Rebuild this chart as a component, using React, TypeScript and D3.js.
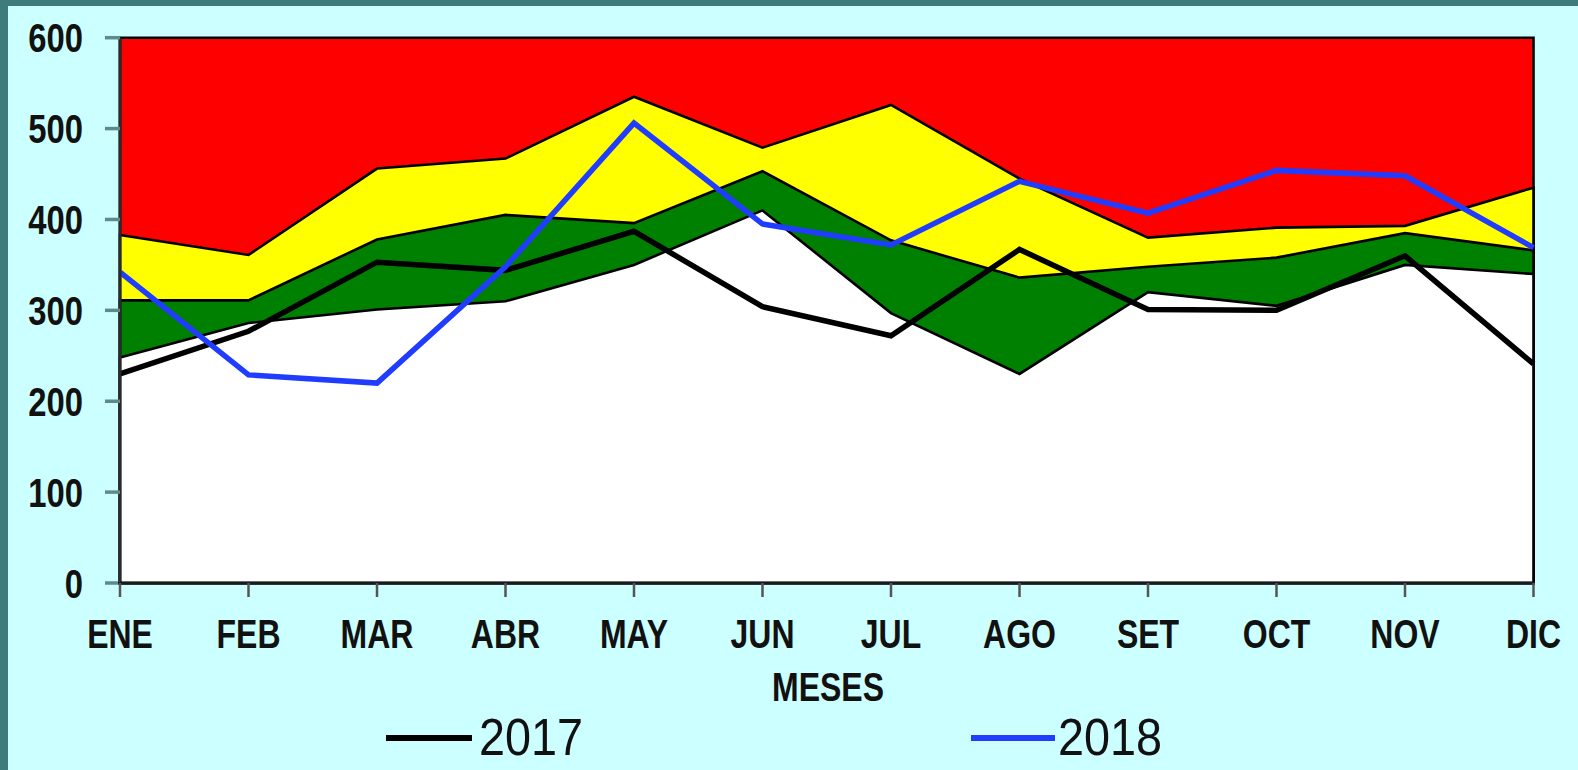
import React from "react";
import * as d3 from "d3";

const months = ["ENE", "FEB", "MAR", "ABR", "MAY", "JUN", "JUL", "AGO", "SET", "OCT", "NOV", "DIC"];
// zone limits (overlapping areas, drawn back to front)
const epidemicZone = [600, 600, 600, 600, 600, 600, 600, 600, 600, 600, 600, 600];
const alarmZone = [383, 361, 456, 467, 535, 479, 526, 445, 380, 391, 393, 435];
const securityZone = [311, 311, 378, 405, 396, 453, 377, 336, 348, 358, 385, 366];
const successZone = [248, 286, 301, 310, 350, 410, 297, 230, 320, 305, 350, 340];
// yearly series
const cases2017 = [230, 277, 353, 344, 387, 304, 272, 367, 301, 300, 360, 241];
const cases2018 = [342, 229, 220, 348, 506, 395, 372, 442, 407, 454, 448, 369];
const yTicks = [0, 100, 200, 300, 400, 500, 600];

const W = 1578;
const H = 770;
const FONT = "'Liberation Sans', Arial, sans-serif";

export default function App() {
  const x = d3.scalePoint<string>().domain(months).range([120, 1533.5]);
  const y = d3.scaleLinear().domain([0, 600]).range([583, 37.7]);

  const area = d3
    .area<number>()
    .x((_, i) => x(months[i]) as number)
    .y0(y(0))
    .y1((d) => y(d));
  const line = d3
    .line<number>()
    .x((_, i) => x(months[i]) as number)
    .y((d) => y(d));

  const zones: [number[], string][] = [
    [epidemicZone, "#ff0000"],
    [alarmZone, "#ffff00"],
    [securityZone, "#008000"],
    [successZone, "#ffffff"],
  ];

  return (
    <svg
      width={W}
      height={H}
      style={{ position: "absolute", left: 0, top: 0, display: "block" }}
    >
      <rect x={0} y={0} width={W} height={H} fill="#3e7c7b" />
      <rect x={8} y={6} width={W - 8} height={H - 6} fill="#ccffff" />

      {zones.map(([vals, color], i) => (
        <path
          key={i}
          d={area(vals) as string}
          fill={color}
          stroke="#000"
          strokeWidth={2.6}
          strokeLinejoin="miter"
        />
      ))}

      <path
        d={line(cases2017) as string}
        fill="none"
        stroke="#000"
        strokeWidth={5.5}
        strokeLinejoin="miter"
      />
      <path
        d={line(cases2018) as string}
        fill="none"
        stroke="#1f3cff"
        strokeWidth={5.5}
        strokeLinejoin="miter"
      />

      {/* y axis */}
      <line x1={120} x2={120} y1={y(600)} y2={y(0)} stroke="#2a2a2a" strokeWidth={3} />
      {yTicks.map((t) => (
        <g key={t}>
          <line x1={105} x2={120} y1={y(t)} y2={y(t)} stroke="#5f8a8a" strokeWidth={3.5} />
          <text
            transform={`translate(83,${y(t) + 14.5}) scale(0.8,1)`}
            textAnchor="end"
            fontFamily={FONT}
            fontWeight="bold"
            fontSize={41}
            fill="#111"
          >
            {t}
          </text>
        </g>
      ))}

      {/* x axis */}
      <line x1={118} x2={1535} y1={y(0)} y2={y(0)} stroke="#1a1a1a" strokeWidth={3} />
      {months.map((m) => (
        <g key={m}>
          <line
            x1={x(m) as number}
            x2={x(m) as number}
            y1={y(0)}
            y2={y(0) + 14}
            stroke="#555"
            strokeWidth={2.5}
          />
          <text
            transform={`translate(${x(m)},648) scale(0.78,1)`}
            textAnchor="middle"
            fontFamily={FONT}
            fontWeight="bold"
            fontSize={41}
            fill="#111"
          >
            {m}
          </text>
        </g>
      ))}
      <text
        transform={`translate(828,701) scale(0.78,1)`}
        textAnchor="middle"
        fontFamily={FONT}
        fontWeight="bold"
        fontSize={41}
        fill="#111"
      >
        MESES
      </text>

      {/* legend */}
      <line x1={386} x2={472} y1={738} y2={738} stroke="#000" strokeWidth={6} />
      <text
        transform={`translate(479,755) scale(0.9,1)`}
        fontFamily={FONT}
        fontSize={52}
        fill="#111"
      >
        2017
      </text>
      <line x1={971} x2={1055} y1={738} y2={738} stroke="#1f3cff" strokeWidth={6} />
      <text
        transform={`translate(1058,755) scale(0.9,1)`}
        fontFamily={FONT}
        fontSize={52}
        fill="#111"
      >
        2018
      </text>
    </svg>
  );
}
